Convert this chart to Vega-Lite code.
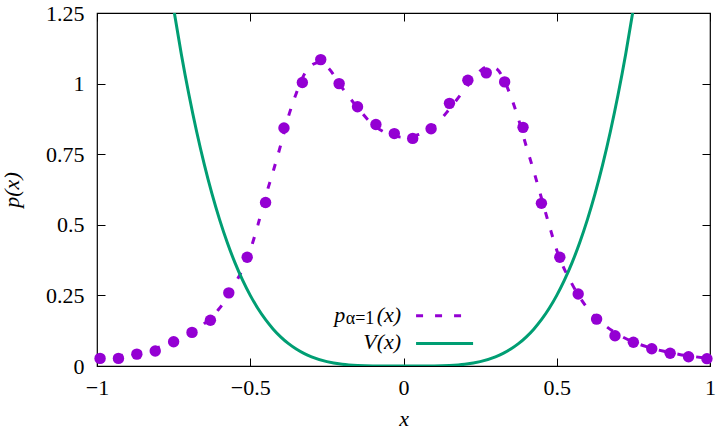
{
  "$schema": "https://vega.github.io/schema/vega-lite/v6.json",
  "width": 613,
  "height": 353,
  "autosize": {"type": "none"},
  "padding": {"left": 97, "top": 13, "right": 7, "bottom": 64},
  "background": "white",
  "config": {
    "view": {"stroke": "black", "strokeWidth": 1.2},
    "text": {"font": "Liberation Serif", "color": "black"},
    "axis": {"grid": false, "domain": false, "tickColor": "black", "tickWidth": 1, "tickSize": -8, "labelColor": "black", "labelFont": "Liberation Serif", "labelFontSize": 22, "titleFont": "Liberation Serif", "titleFontSize": 22, "titleFontWeight": "normal", "titleFontStyle": "italic", "titleColor": "black", "labelFlush": false, "labelOverlap": false}
  },
  "datasets": {
    "samples": [
      {"x": -0.99, "p": 0.027}, {"x": -0.93, "p": 0.027}, {"x": -0.87, "p": 0.042}, {"x": -0.81, "p": 0.053},
      {"x": -0.75, "p": 0.086}, {"x": -0.69, "p": 0.119}, {"x": -0.63, "p": 0.162}, {"x": -0.57, "p": 0.259},
      {"x": -0.51, "p": 0.385}, {"x": -0.45, "p": 0.579}, {"x": -0.39, "p": 0.843}, {"x": -0.33, "p": 1.004},
      {"x": -0.27, "p": 1.085}, {"x": -0.21, "p": 1.0}, {"x": -0.15, "p": 0.918}, {"x": -0.09, "p": 0.855},
      {"x": -0.03, "p": 0.823}, {"x": 0.03, "p": 0.806}, {"x": 0.09, "p": 0.84}, {"x": 0.15, "p": 0.93},
      {"x": 0.21, "p": 1.012}, {"x": 0.27, "p": 1.038}, {"x": 0.33, "p": 1.006}, {"x": 0.39, "p": 0.845},
      {"x": 0.45, "p": 0.576}, {"x": 0.51, "p": 0.385}, {"x": 0.57, "p": 0.255}, {"x": 0.63, "p": 0.166},
      {"x": 0.69, "p": 0.107}, {"x": 0.75, "p": 0.084}, {"x": 0.81, "p": 0.061}, {"x": 0.87, "p": 0.045},
      {"x": 0.93, "p": 0.033}, {"x": 0.99, "p": 0.026}
    ],
    "theory": [
      {"x": -1.0, "p": 0.026}, {"x": -0.95, "p": 0.033}, {"x": -0.9, "p": 0.041}, {"x": -0.85, "p": 0.052},
      {"x": -0.8, "p": 0.066}, {"x": -0.75, "p": 0.085}, {"x": -0.7, "p": 0.112}, {"x": -0.65, "p": 0.15},
      {"x": -0.6, "p": 0.205}, {"x": -0.55, "p": 0.29}, {"x": -0.5, "p": 0.41}, {"x": -0.475, "p": 0.5},
      {"x": -0.45, "p": 0.6}, {"x": -0.425, "p": 0.69}, {"x": -0.4, "p": 0.785}, {"x": -0.375, "p": 0.885},
      {"x": -0.35, "p": 0.965}, {"x": -0.325, "p": 1.03}, {"x": -0.3, "p": 1.065}, {"x": -0.275, "p": 1.075},
      {"x": -0.25, "p": 1.06}, {"x": -0.2, "p": 0.985}, {"x": -0.15, "p": 0.915}, {"x": -0.1, "p": 0.855},
      {"x": -0.05, "p": 0.822}, {"x": 0.0, "p": 0.81}, {"x": 0.05, "p": 0.82}, {"x": 0.1, "p": 0.85},
      {"x": 0.15, "p": 0.91}, {"x": 0.2, "p": 0.98}, {"x": 0.25, "p": 1.045}, {"x": 0.275, "p": 1.06},
      {"x": 0.3, "p": 1.055}, {"x": 0.325, "p": 1.02}, {"x": 0.35, "p": 0.955}, {"x": 0.375, "p": 0.875},
      {"x": 0.4, "p": 0.78}, {"x": 0.425, "p": 0.69}, {"x": 0.45, "p": 0.595}, {"x": 0.475, "p": 0.5},
      {"x": 0.5, "p": 0.41}, {"x": 0.55, "p": 0.29}, {"x": 0.6, "p": 0.205}, {"x": 0.65, "p": 0.15},
      {"x": 0.7, "p": 0.112}, {"x": 0.75, "p": 0.085}, {"x": 0.8, "p": 0.066}, {"x": 0.85, "p": 0.052},
      {"x": 0.9, "p": 0.041}, {"x": 0.95, "p": 0.033}, {"x": 1.0, "p": 0.026}
    ],
    "potential": [
      {"x": -0.76, "v": 1.3345}, {"x": -0.75, "v": 1.2656}, {"x": -0.725, "v": 1.1051}, {"x": -0.7, "v": 0.9604},
      {"x": -0.675, "v": 0.8304}, {"x": -0.65, "v": 0.714}, {"x": -0.625, "v": 0.6104}, {"x": -0.6, "v": 0.5184},
      {"x": -0.575, "v": 0.4373}, {"x": -0.55, "v": 0.366}, {"x": -0.525, "v": 0.3039}, {"x": -0.5, "v": 0.25},
      {"x": -0.475, "v": 0.2036}, {"x": -0.45, "v": 0.164}, {"x": -0.425, "v": 0.1305}, {"x": -0.4, "v": 0.1024},
      {"x": -0.375, "v": 0.0791}, {"x": -0.35, "v": 0.06}, {"x": -0.325, "v": 0.0446}, {"x": -0.3, "v": 0.0324},
      {"x": -0.25, "v": 0.0156}, {"x": -0.2, "v": 0.0064}, {"x": -0.15, "v": 0.002}, {"x": -0.1, "v": 0.0004},
      {"x": 0.0, "v": 0.0},
      {"x": 0.1, "v": 0.0004}, {"x": 0.15, "v": 0.002}, {"x": 0.2, "v": 0.0064}, {"x": 0.25, "v": 0.0156},
      {"x": 0.3, "v": 0.0324}, {"x": 0.325, "v": 0.0446}, {"x": 0.35, "v": 0.06}, {"x": 0.375, "v": 0.0791},
      {"x": 0.4, "v": 0.1024}, {"x": 0.425, "v": 0.1305}, {"x": 0.45, "v": 0.164}, {"x": 0.475, "v": 0.2036},
      {"x": 0.5, "v": 0.25}, {"x": 0.525, "v": 0.3039}, {"x": 0.55, "v": 0.366}, {"x": 0.575, "v": 0.4373},
      {"x": 0.6, "v": 0.5184}, {"x": 0.625, "v": 0.6104}, {"x": 0.65, "v": 0.714}, {"x": 0.675, "v": 0.8304},
      {"x": 0.7, "v": 0.9604}, {"x": 0.725, "v": 1.1051}, {"x": 0.75, "v": 1.2656}, {"x": 0.76, "v": 1.3345}
    ]
  },
  "layer": [
    {
      "data": {"name": "samples"},
      "mark": {"type": "point", "filled": true, "size": 130, "opacity": 1, "color": "#9400d3"},
      "encoding": {
        "x": {"field": "x", "type": "quantitative", "scale": {"domain": [-1, 1], "nice": false, "zero": false},
              "axis": {"orient": "bottom", "values": [-1, -0.5, 0, 0.5, 1], "labelExpr": "format(datum.value, '~g')", "labelPadding": 19, "title": "x", "titlePadding": 10}},
        "y": {"field": "p", "type": "quantitative", "scale": {"domain": [0, 1.25], "nice": false, "zero": false},
              "axis": {"orient": "left", "values": [0, 0.25, 0.5, 0.75, 1, 1.25], "labelExpr": "format(datum.value, '~g')", "labelPadding": 21, "title": "p(x)", "titlePadding": 22}}
      }
    },
    {
      "data": {"name": "theory"},
      "mark": {"type": "line", "color": "#9400d3", "strokeWidth": 3, "strokeDash": [7, 12], "interpolate": "monotone", "clip": true},
      "encoding": {
        "x": {"field": "x", "type": "quantitative", "scale": {"domain": [-1, 1], "nice": false, "zero": false},
              "axis": {"orient": "top", "values": [-1, -0.5, 0, 0.5, 1], "labels": false, "title": null}},
        "y": {"field": "p", "type": "quantitative", "scale": {"domain": [0, 1.25], "nice": false, "zero": false},
              "axis": {"orient": "right", "values": [0, 0.25, 0.5, 0.75, 1, 1.25], "labels": false, "title": null}}
      }
    },
    {
      "data": {"name": "potential"},
      "mark": {"type": "line", "color": "#009e73", "strokeWidth": 3, "interpolate": "monotone", "clip": true},
      "encoding": {
        "x": {"field": "x", "type": "quantitative", "scale": {"domain": [-1, 1], "nice": false, "zero": false}, "axis": null},
        "y": {"field": "v", "type": "quantitative", "scale": {"domain": [0, 1.25], "nice": false, "zero": false}, "axis": null}
      }
    },
    {
      "data": {"values": [{"label": "p"}]},
      "mark": {"type": "text", "align": "right", "baseline": "alphabetic", "fontSize": 22, "fontStyle": "italic"},
      "encoding": {
        "x": {"datum": -0.19, "type": "quantitative", "scale": {"domain": [-1, 1], "nice": false, "zero": false}, "axis": null},
        "y": {"datum": 0.156, "type": "quantitative", "scale": {"domain": [0, 1.25], "nice": false, "zero": false}, "axis": null},
        "text": {"field": "label"}
      }
    },
    {
      "data": {"values": [{"label": "α=1"}]},
      "mark": {"type": "text", "align": "right", "baseline": "alphabetic", "fontSize": 18},
      "encoding": {
        "x": {"datum": -0.095, "type": "quantitative", "scale": {"domain": [-1, 1], "nice": false, "zero": false}, "axis": null},
        "y": {"datum": 0.147, "type": "quantitative", "scale": {"domain": [0, 1.25], "nice": false, "zero": false}, "axis": null},
        "text": {"field": "label"}
      }
    },
    {
      "data": {"values": [{"label": "(x)"}]},
      "mark": {"type": "text", "align": "right", "baseline": "alphabetic", "fontSize": 22, "fontStyle": "italic"},
      "encoding": {
        "x": {"datum": -0.008, "type": "quantitative", "scale": {"domain": [-1, 1], "nice": false, "zero": false}, "axis": null},
        "y": {"datum": 0.156, "type": "quantitative", "scale": {"domain": [0, 1.25], "nice": false, "zero": false}, "axis": null},
        "text": {"field": "label"}
      }
    },
    {
      "data": {"values": [{"label": "V(x)"}]},
      "mark": {"type": "text", "align": "right", "baseline": "alphabetic", "fontSize": 22, "fontStyle": "italic"},
      "encoding": {
        "x": {"datum": -0.008, "type": "quantitative", "scale": {"domain": [-1, 1], "nice": false, "zero": false}, "axis": null},
        "y": {"datum": 0.059, "type": "quantitative", "scale": {"domain": [0, 1.25], "nice": false, "zero": false}, "axis": null},
        "text": {"field": "label"}
      }
    },
    {
      "data": {"values": [{"series": "p_alpha=1"}]},
      "mark": {"type": "rule", "color": "#9400d3", "strokeWidth": 3, "strokeDash": [7, 12]},
      "encoding": {
        "x": {"datum": 0.041, "type": "quantitative", "scale": {"domain": [-1, 1], "nice": false, "zero": false}, "axis": null},
        "x2": {"datum": 0.215},
        "y": {"datum": 0.178, "type": "quantitative", "scale": {"domain": [0, 1.25], "nice": false, "zero": false}, "axis": null}
      }
    },
    {
      "data": {"values": [{"series": "V"}]},
      "mark": {"type": "rule", "color": "#009e73", "strokeWidth": 3},
      "encoding": {
        "x": {"datum": 0.041, "type": "quantitative", "scale": {"domain": [-1, 1], "nice": false, "zero": false}, "axis": null},
        "x2": {"datum": 0.227},
        "y": {"datum": 0.08, "type": "quantitative", "scale": {"domain": [0, 1.25], "nice": false, "zero": false}, "axis": null}
      }
    }
  ],
  "resolve": {"scale": {"x": "independent", "y": "independent"}, "axis": {"x": "independent", "y": "independent"}}
}
